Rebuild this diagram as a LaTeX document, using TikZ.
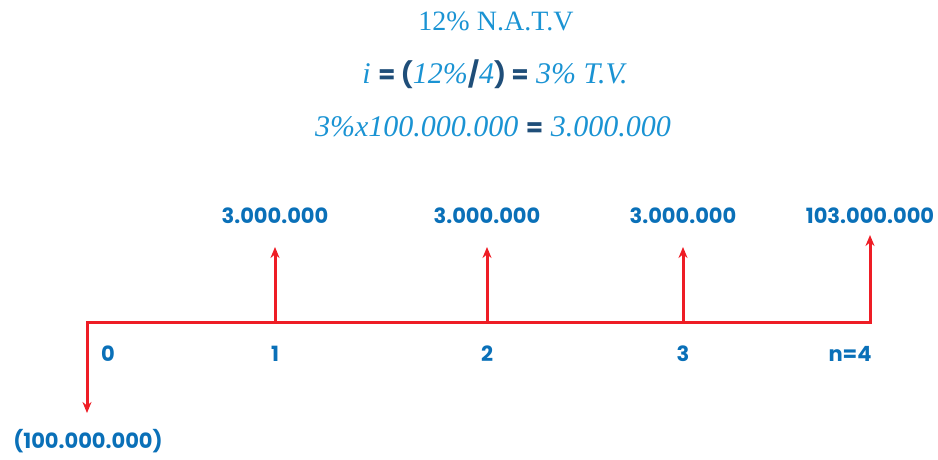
\documentclass[tikz,border=0pt]{standalone}
\usepackage{fontspec}
\setmainfont{Liberation Serif}
\newfontfamily\lblfont{Poppins}
\usepackage{xcolor}
\usetikzlibrary{arrows.meta, positioning}
\definecolor{ratecolor}{HTML}{1A93D3}
\definecolor{signcolor}{HTML}{1F4E79}
\definecolor{flowcolor}{HTML}{0A70B8}
\definecolor{linecolor}{HTML}{EE1D25}
\tikzstyle{rate} = [text=ratecolor, font=\fontsize{28}{30}\selectfont, inner sep=0pt]
\tikzstyle{amount} = [text=flowcolor, font=\lblfont\bfseries\fontsize{21}{24}\selectfont, inner sep=0pt]
\tikzstyle{axis} = [draw=linecolor, line width=3pt]
\tikzstyle{arrow} = [axis, -{Stealth[length=11pt,width=9pt]}]
\tikzstyle{flowline} = [axis, {Stealth[length=11pt,width=9pt]}-{Stealth[length=11pt,width=9pt]}]
\newcommand{\opsign}[1]{{\upshape\lblfont\bfseries\fontsize{25}{28}\selectfont\color{signcolor}#1}}

\begin{document}
\begin{tikzpicture}[x=1pt, y=1pt]
\useasboundingbox (0,0) rectangle (938,459);
% rate conversion
\node (nom) [rate] at (496,438) {12\% N.A.T.V};
\node (eff) [rate, font=\fontsize{30}{32}\selectfont] at (495,385) {\itshape i \opsign{= (}12\%\opsign{/}4\opsign{) =} 3\% T.V.};
\node (int) [rate, font=\fontsize{30}{32}\selectfont] at (493,332) {\itshape 3\%x100.000.000 \opsign{=} 3.000.000};

% time line
\coordinate (t0) at (87,137);
\coordinate (t1) at (275,137);
\coordinate (t2) at (487,137);
\coordinate (t3) at (683,137);
\coordinate (t4) at (870,137);
\coordinate (p0) at (87,46);
\coordinate (a1) at (275,212);
\coordinate (a2) at (487,212);
\coordinate (a3) at (683,212);
\coordinate (a4) at (870,224);

\draw [flowline] (a4) -- (t4) -- (t0) -- (p0);
\foreach \i in {1,2,3}
  \draw [arrow] (t\i) -- (a\i);

% amounts
\node (v1) [amount] at (275,243) {3.000.000};
\node (v2) [amount] at (487,243) {3.000.000};
\node (v3) [amount] at (683,243) {3.000.000};
\node (v4) [amount] at (870,243) {103.000.000};
\node (v0) [amount] at (88,18) {(100.000.000)};

% periods
\node (n0) [amount] at (108,105) {0};
\node (n1) [amount] at (275,105) {1};
\node (n2) [amount] at (487,105) {2};
\node (n3) [amount] at (683,105) {3};
\node (n4) [amount] at (850,105) {n=4};
\end{tikzpicture}
\end{document}
